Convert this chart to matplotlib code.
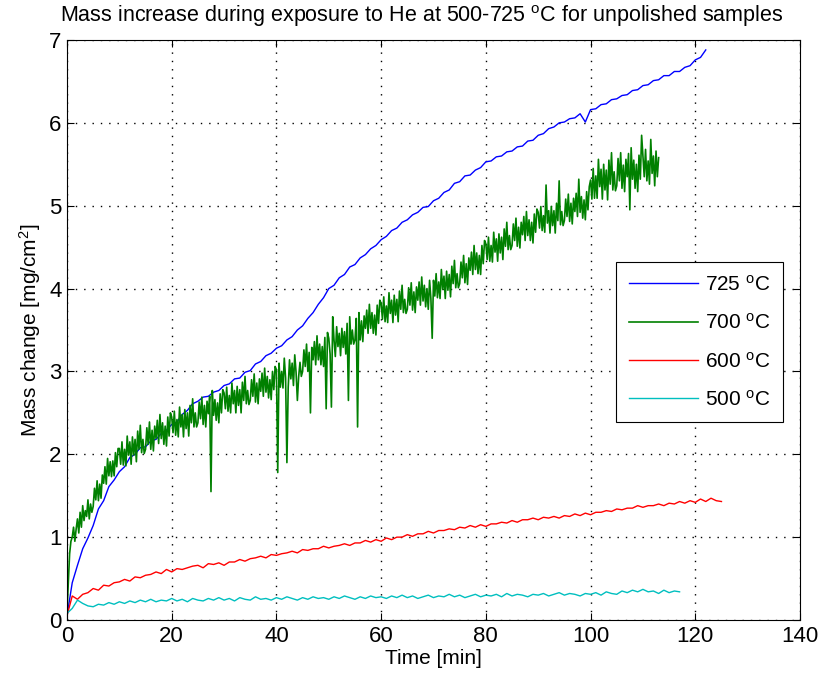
import numpy as np
import matplotlib
matplotlib.use("Agg")
import matplotlib.pyplot as plt
from matplotlib import font_manager

# ---------------- data ----------------
# 700 C : sampled every 0.25 min, 0 .. 113 min
g700 = [
    0.10, 0.45, 0.80, 0.95, 1.00, 1.12, 0.95, 1.10, 1.22, 1.05, 1.30, 1.12, 1.38, 1.20, 1.32, 1.25, 1.45, 1.22, 1.40, 1.30,
    1.37, 1.59, 1.45, 1.68, 1.44, 1.64, 1.47, 1.75, 1.65, 1.85, 1.64, 1.95, 1.74, 1.91, 1.73, 1.92, 1.74, 2.02, 1.85, 2.07,
    2.07, 1.88, 2.15, 1.87, 2.06, 1.86, 2.22, 1.99, 2.15, 1.88, 2.21, 1.99, 2.18, 1.91, 2.28, 2.06, 2.35, 2.02, 2.18, 2.01,
    2.06, 2.32, 2.12, 2.39, 2.06, 2.29, 2.04, 2.34, 2.19, 2.41, 2.13, 2.48, 2.19, 2.38, 2.12, 2.34, 2.10, 2.45, 2.22, 2.50,
    2.45, 2.26, 2.52, 2.23, 2.42, 2.21, 2.57, 2.33, 2.48, 2.21, 2.54, 2.31, 2.50, 2.22, 2.59, 2.38, 2.67, 2.33, 2.50, 2.33,
    2.38, 2.63, 2.43, 2.69, 2.36, 2.59, 2.33, 2.64, 2.49, 2.70, 1.55, 2.77, 2.47, 2.66, 2.41, 2.62, 2.38, 2.73, 2.50, 2.78,
    2.74, 2.55, 2.81, 2.52, 2.71, 2.50, 2.86, 2.61, 2.77, 2.50, 2.82, 2.59, 2.78, 2.50, 2.87, 2.65, 2.94, 2.61, 2.77, 2.60,
    2.65, 2.90, 2.70, 2.97, 2.63, 2.86, 2.61, 2.91, 2.76, 2.98, 2.70, 3.04, 2.75, 2.94, 2.68, 2.90, 2.66, 3.00, 2.78, 3.06,
    3.02, 1.78, 3.10, 2.81, 3.00, 2.80, 3.16, 2.92, 1.90, 2.81, 3.14, 2.91, 3.10, 2.83, 3.20, 2.99, 2.65, 2.94, 3.11, 2.94,
    3.00, 3.26, 3.06, 3.33, 3.00, 3.23, 2.50, 3.29, 3.14, 3.36, 3.08, 3.43, 3.14, 3.33, 3.08, 3.30, 3.06, 3.41, 2.55, 3.47,
    3.40, 3.21, 2.57, 3.66, 3.38, 3.18, 3.54, 3.30, 3.46, 3.19, 3.52, 3.29, 3.48, 3.21, 3.58, 2.65, 3.66, 3.33, 3.50, 3.33,
    3.38, 3.64, 2.33, 3.71, 3.38, 3.61, 3.36, 3.67, 3.52, 3.74, 3.46, 3.81, 3.52, 3.71, 3.46, 3.68, 3.44, 3.80, 3.58, 3.86,
    3.82, 3.63, 3.90, 3.60, 3.79, 3.59, 3.95, 3.70, 3.86, 3.59, 3.92, 3.68, 3.87, 3.60, 3.97, 3.75, 4.04, 3.71, 3.87, 3.70,
    3.75, 4.01, 3.80, 4.07, 3.74, 3.96, 3.71, 4.02, 3.86, 4.08, 3.80, 4.14, 3.85, 4.04, 3.78, 4.00, 3.75, 4.10, 3.88, 3.40,
    4.10, 3.91, 4.18, 3.89, 4.08, 3.88, 4.23, 3.99, 4.15, 3.88, 4.21, 3.98, 4.17, 3.90, 4.27, 4.06, 4.34, 4.01, 4.18, 4.01,
    4.06, 4.32, 4.13, 4.40, 4.07, 4.30, 4.05, 4.37, 4.22, 4.44, 4.17, 4.52, 4.23, 4.43, 4.18, 4.40, 4.17, 4.52, 4.30, 4.58,
    4.54, 4.35, 4.62, 4.33, 4.52, 4.32, 4.68, 4.44, 4.60, 4.33, 4.66, 4.43, 4.62, 4.35, 4.72, 4.51, 4.80, 4.47, 4.64, 4.47,
    4.52, 4.78, 4.58, 4.85, 4.51, 4.74, 4.49, 4.80, 4.65, 4.87, 4.58, 4.93, 4.64, 4.83, 4.58, 4.80, 4.55, 4.90, 4.68, 4.96,
    4.92, 4.73, 4.99, 4.70, 4.88, 4.68, 5.25, 4.79, 4.94, 4.67, 4.99, 4.76, 4.94, 4.67, 5.03, 4.82, 5.30, 4.77, 4.93, 4.76,
    4.82, 5.08, 4.87, 5.14, 4.81, 5.03, 4.78, 5.09, 4.93, 5.15, 4.87, 5.32, 4.92, 5.11, 4.85, 5.07, 4.83, 5.17, 4.95, 5.23,
    5.31, 5.08, 5.45, 5.09, 5.36, 5.09, 5.56, 5.23, 5.44, 5.08, 5.50, 5.19, 5.43, 5.07, 5.55, 5.26, 5.64, 5.19, 5.41, 5.18,
    5.24, 5.57, 5.30, 5.64, 5.21, 5.49, 5.17, 5.56, 5.35, 5.63, 4.95, 5.70, 5.32, 5.55, 5.21, 5.50, 5.17, 5.61, 5.32, 5.85,
    5.61, 5.35, 5.68, 5.30, 5.54, 5.26, 5.80, 5.39, 5.60, 5.24, 5.66, 5.35, 5.58,
]
t700 = np.arange(len(g700)) * 0.25

# 725 C : sampled every 1 min, 0 .. 122 min
b725 = [
    0.05, 0.45, 0.66, 0.86, 0.99, 1.14, 1.34, 1.44, 1.61, 1.69,
    1.79, 1.85, 1.96, 2.00, 2.08, 2.09, 2.16, 2.18, 2.25, 2.29,
    2.36, 2.39, 2.48, 2.53, 2.61, 2.64, 2.69, 2.70, 2.75, 2.77,
    2.83, 2.85, 2.91, 2.92, 2.99, 3.01, 3.09, 3.12, 3.19, 3.22,
    3.28, 3.31, 3.38, 3.42, 3.50, 3.55, 3.64, 3.71, 3.81, 3.89,
    4.00, 4.04, 4.13, 4.17, 4.26, 4.29, 4.37, 4.41, 4.48, 4.52,
    4.59, 4.63, 4.70, 4.73, 4.80, 4.83, 4.89, 4.92, 4.98, 4.99,
    5.06, 5.09, 5.16, 5.19, 5.27, 5.29, 5.36, 5.37, 5.43, 5.46,
    5.53, 5.54, 5.59, 5.60, 5.65, 5.66, 5.71, 5.72, 5.78, 5.79,
    5.85, 5.87, 5.93, 5.95, 6.00, 6.01, 6.05, 6.06, 6.11, 6.01,
    6.16, 6.17, 6.22, 6.23, 6.28, 6.29, 6.33, 6.34, 6.39, 6.40,
    6.45, 6.46, 6.51, 6.52, 6.57, 6.57, 6.62, 6.62, 6.67, 6.69,
    6.76, 6.79, 6.88,
]
t725 = np.arange(len(b725)) * 1.0

# 600 C : sampled every 1 min, 0 .. 125 min
r600 = [
    0.05, 0.29, 0.25, 0.31, 0.33, 0.38, 0.36, 0.42, 0.41, 0.45,
    0.46, 0.49, 0.47, 0.52, 0.51, 0.54, 0.55, 0.58, 0.56, 0.61,
    0.58, 0.62, 0.61, 0.63, 0.65, 0.66, 0.63, 0.68, 0.67, 0.69,
    0.66, 0.70, 0.70, 0.73, 0.71, 0.74, 0.75, 0.77, 0.75, 0.79,
    0.78, 0.80, 0.81, 0.83, 0.81, 0.85, 0.84, 0.86, 0.86, 0.89,
    0.87, 0.89, 0.90, 0.92, 0.90, 0.93, 0.93, 0.96, 0.94, 0.97,
    0.95, 0.99, 0.97, 1.00, 1.00, 1.03, 1.01, 1.04, 1.04, 1.07,
    1.05, 1.08, 1.08, 1.10, 1.09, 1.12, 1.11, 1.14, 1.12, 1.15,
    1.13, 1.16, 1.16, 1.18, 1.17, 1.20, 1.18, 1.21, 1.21, 1.23,
    1.21, 1.24, 1.23, 1.25, 1.23, 1.26, 1.25, 1.28, 1.26, 1.29,
    1.27, 1.30, 1.30, 1.32, 1.31, 1.34, 1.33, 1.35, 1.35, 1.38,
    1.36, 1.38, 1.38, 1.40, 1.38, 1.41, 1.40, 1.43, 1.41, 1.44,
    1.42, 1.46, 1.43, 1.47, 1.44, 1.43,
]
t600 = np.arange(len(r600)) * 1.0

# 500 C : sampled every 1 min, 0 .. 117 min
c500 = [
    0.08, 0.14, 0.24, 0.20, 0.17, 0.16, 0.19, 0.18, 0.21, 0.19,
    0.22, 0.20, 0.23, 0.21, 0.24, 0.22, 0.25, 0.22, 0.24, 0.23,
    0.26, 0.23, 0.25, 0.22, 0.26, 0.24, 0.23, 0.26, 0.24, 0.27,
    0.24, 0.26, 0.23, 0.27, 0.25, 0.24, 0.28, 0.25, 0.26, 0.24,
    0.27, 0.25, 0.28, 0.26, 0.24, 0.27, 0.25, 0.28, 0.26, 0.27,
    0.25, 0.28, 0.26, 0.29, 0.27, 0.25, 0.28, 0.26, 0.29, 0.27,
    0.28, 0.26, 0.29, 0.27, 0.30, 0.27, 0.29, 0.26, 0.28, 0.30,
    0.27, 0.29, 0.28, 0.31, 0.28, 0.30, 0.27, 0.29, 0.31, 0.28,
    0.30, 0.29, 0.31, 0.28, 0.32, 0.29, 0.31, 0.30, 0.28, 0.31,
    0.30, 0.32, 0.29, 0.31, 0.33, 0.30, 0.32, 0.31, 0.29, 0.32,
    0.31, 0.33, 0.30, 0.34, 0.32, 0.31, 0.35, 0.33, 0.36, 0.34,
    0.37, 0.34, 0.35, 0.32, 0.36, 0.33, 0.35, 0.34,
]
t500 = np.arange(len(c500)) * 1.0

labels = ["725", "700", "600", "500"]
xticks = [0, 20, 40, 60, 80, 100, 120, 140]
yticks = [0, 1, 2, 3, 4, 5, 6, 7]

# ---------------- style ----------------
names = {f.name for f in font_manager.fontManager.ttflist}
fam = "Liberation Sans Narrow" if "Liberation Sans Narrow" in names else "Liberation Sans"
plt.rcParams["font.family"] = [fam, "DejaVu Sans"]
plt.rcParams["mathtext.fontset"] = "custom"
plt.rcParams["mathtext.rm"] = fam
plt.rcParams["mathtext.it"] = fam
plt.rcParams["mathtext.bf"] = fam

fig = plt.figure(figsize=(8.19, 6.81), dpi=100)
ax = fig.add_axes([67 / 819, 1 - 620 / 681, 733 / 819, 580 / 681])

ax.plot(t725, b725, color=(0, 0, 1), lw=1.0, label=labels[0] + r" $^{\mathrm{o}}$C")
ax.plot(t700, g700, color=(0, 0.5, 0), lw=1.2, label=labels[1] + r" $^{\mathrm{o}}$C")
ax.plot(t600, r600, color=(1, 0, 0), lw=1.0, label=labels[2] + r" $^{\mathrm{o}}$C")
ax.plot(t500, c500, color=(0, 0.75, 0.75), lw=1.0, label=labels[3] + r" $^{\mathrm{o}}$C")

ax.set_xlim(0, 140)
ax.set_ylim(0, 7)
ax.set_xticks(xticks)
ax.set_yticks(yticks)
ax.tick_params(direction="in", top=True, right=True, length=5, width=0.8,
               labelsize=16, pad=4)
ax.grid(True, color="black", linestyle=(0, (1, 5)), linewidth=1.0)
for s in ax.spines.values():
    s.set_linewidth(0.8)

ax.set_xlabel("Time [min]", fontsize=15, labelpad=2)
ax.set_ylabel(r"Mass change [mg/cm$^2$]", fontsize=15, labelpad=4)
ax.set_title(r"Mass increase during exposure to He at 500-725 $^{\mathrm{o}}$C for unpolished samples",
             fontsize=15.5, pad=13, x=0.4836)

leg = ax.legend(loc="upper right", bbox_to_anchor=(0.977, 0.617), fontsize=15,
                frameon=True, fancybox=False, framealpha=1, edgecolor="black",
                handlelength=3.3, labelspacing=0.88, borderpad=0.6, handletextpad=0.35,
                borderaxespad=0.0)
leg.get_frame().set_linewidth(0.8)

fig.savefig("out.png", dpi=100)
